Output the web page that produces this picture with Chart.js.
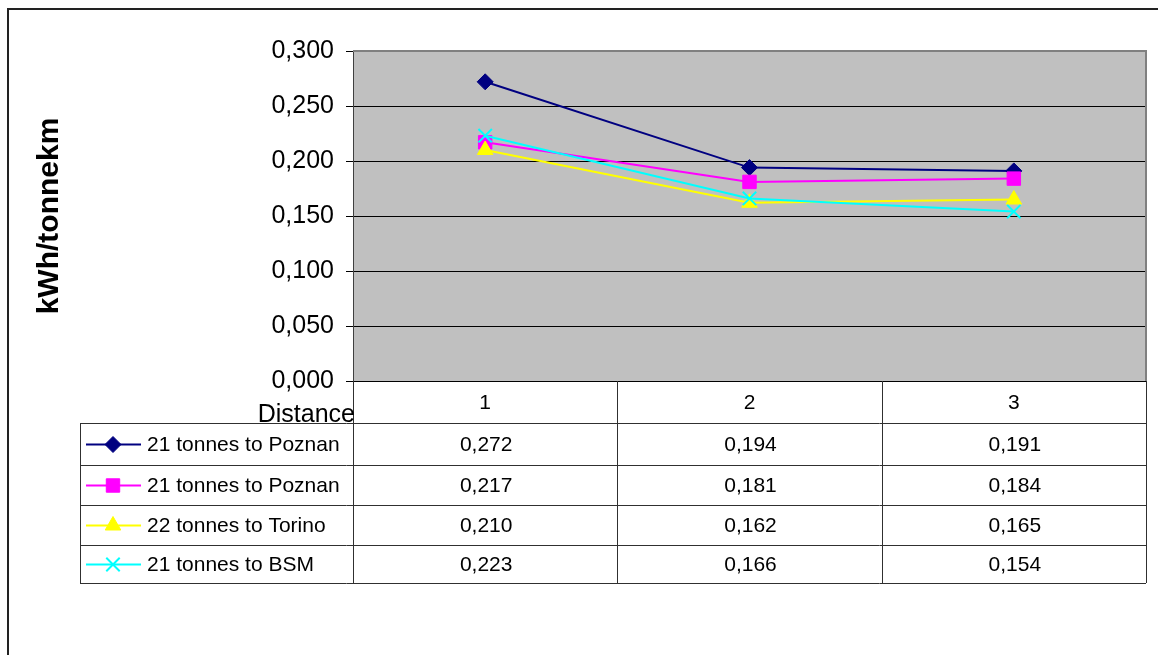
<!DOCTYPE html>
<html>
<head>
<meta charset="utf-8">
<script src="https://cdn.jsdelivr.net/npm/chart.js@4.4.1/dist/chart.umd.min.js"></script>
<style>
html,body{margin:0;padding:0;background:#fff;}
#wrap{width:1158px;height:655px;position:relative;}
</style>
</head>
<body>
<div id="wrap"><canvas id="c" width="1158" height="655"></canvas></div>
<script>
// ---- data ----
const categories = ['1', '2', '3'];
const seriesNames = ['21 tonnes to Poznan', '21 tonnes to Poznan', '22 tonnes to Torino', '21 tonnes to BSM'];
const poznan21A = [0.272, 0.194, 0.191];
const poznan21B = [0.217, 0.181, 0.184];
const torino22 = [0.210, 0.162, 0.165];
const bsm21 = [0.223, 0.166, 0.154];
const yAxisTitle = 'kWh/tonnekm';
const xAxisTitle = 'Distance';

const seriesValues = [poznan21A, poznan21B, torino22, bsm21];
const seriesColors = ['#000080', '#FF00FF', '#FFFF00', '#00FFFF'];
const seriesMarkers = ['rectRot', 'rect', 'triangle', 'crossRot'];
const markerRadius = [8, 9.5, 9, 9.5];

const FONT = '"Liberation Sans", Arial, sans-serif';
const fmt = v => v.toFixed(3).replace('.', ',');

const datasets = seriesValues.map((vals, i) => ({
  label: seriesNames[i],
  data: vals,
  borderColor: seriesColors[i],
  backgroundColor: seriesColors[i],
  pointBackgroundColor: seriesColors[i],
  pointBorderColor: seriesColors[i],
  pointStyle: seriesMarkers[i],
  pointRadius: markerRadius[i],
  pointBorderWidth: i === 3 ? 2 : 1,
  borderWidth: 2,
  tension: 0,
  order: seriesValues.length - i
}));

// table layout constants
const TABLE_LEFT = 80;
const HEADER_BOTTOM = 423;
const ROW_LINES = [423, 465, 505, 545, 583];

function drawMarker(ctx, style, color, r, x, y, bw) {
  if (Chart.helpers && Chart.helpers.drawPoint) {
    ctx.save();
    ctx.fillStyle = color; ctx.strokeStyle = color; ctx.lineWidth = bw;
    Chart.helpers.drawPoint(ctx, {pointStyle: style, radius: r, rotation: 0, borderWidth: bw}, x, y);
    ctx.restore();
  }
}

const tablePlugin = {
  id: 'tablePlugin',
  beforeDraw(chart) {
    const {ctx, chartArea: a} = chart;
    ctx.save();
    ctx.fillStyle = '#fff';
    ctx.fillRect(0, 0, chart.width, chart.height);
    ctx.fillStyle = '#C0C0C0';
    ctx.fillRect(a.left, a.top, a.right - a.left, a.bottom - a.top);
    ctx.restore();
  },
  afterDraw(chart) {
    const {ctx, chartArea: a} = chart;
    const xs = chart.scales.x;
    ctx.save();
    // outer chart border
    ctx.strokeStyle = '#222';
    ctx.lineWidth = 2;
    ctx.strokeRect(8, 9, 1200, 700);
    // plot border (top/right)
    ctx.strokeStyle = '#808080';
    ctx.lineWidth = 2;
    ctx.beginPath();
    ctx.moveTo(a.left, a.top); ctx.lineTo(a.right, a.top); ctx.lineTo(a.right, a.bottom);
    ctx.stroke();

    // table grid
    const n = categories.length;
    const colW = (a.right - a.left) / n;
    const tableBottom = ROW_LINES[ROW_LINES.length - 1];
    ctx.strokeStyle = '#303030';
    ctx.lineWidth = 1;
    ctx.beginPath();
    for (let k = 0; k <= n; k++) {
      const x = Math.round(a.left + k * colW) + 0.5;
      ctx.moveTo(x, a.bottom); ctx.lineTo(x, tableBottom);
    }
    ROW_LINES.forEach(y => {
      ctx.moveTo(TABLE_LEFT, y + 0.5); ctx.lineTo(a.right, y + 0.5);
    });
    ctx.moveTo(TABLE_LEFT + 0.5, ROW_LINES[0]); ctx.lineTo(TABLE_LEFT + 0.5, tableBottom);
    ctx.stroke();

    ctx.fillStyle = '#000';
    // header (category labels)
    ctx.font = '21px ' + FONT;
    ctx.textAlign = 'center';
    ctx.textBaseline = 'middle';
    categories.forEach((c, i) => {
      ctx.fillText(c, xs.getPixelForValue(i), (a.bottom + HEADER_BOTTOM) / 2 + 1);
    });
    // x-axis title
    ctx.font = '25px ' + FONT;
    ctx.textAlign = 'right';
    ctx.fillText(xAxisTitle, a.left + 2, 415);

    // rows
    seriesValues.forEach((vals, r) => {
      const y0 = ROW_LINES[r], y1 = ROW_LINES[r + 1];
      const cy = (y0 + y1) / 2 + 1.5;
      // legend key
      ctx.strokeStyle = seriesColors[r];
      ctx.lineWidth = 2;
      ctx.beginPath();
      ctx.moveTo(86, cy - 1); ctx.lineTo(141, cy - 1);
      ctx.stroke();
      drawMarker(ctx, seriesMarkers[r], seriesColors[r], markerRadius[r], 113, cy - 1, r === 3 ? 2 : 1);
      ctx.fillStyle = '#000';
      ctx.font = '21px ' + FONT;
      ctx.textAlign = 'left';
      ctx.fillText(seriesNames[r], 147, cy);
      ctx.textAlign = 'center';
      vals.forEach((v, i) => {
        ctx.fillText(fmt(v), xs.getPixelForValue(i) + 1, cy);
      });
    });
    ctx.restore();
  }
};

new Chart(document.getElementById('c'), {
  type: 'line',
  data: {labels: categories, datasets},
  options: {
    responsive: false,
    animation: false,
    devicePixelRatio: 1,
    layout: {padding: {left: 0, top: 51, right: 12, bottom: 274}},
    plugins: {legend: {display: false}, tooltip: {enabled: false}},
    scales: {
      x: {display: false, offset: true},
      y: {
        min: 0, max: 0.3,
        afterFit(scale) { scale.width = 353; },
        ticks: {
          stepSize: 0.05,
          color: '#000',
          font: {family: FONT, size: 25},
          padding: 12,
          callback: v => fmt(v)
        },
        grid: {
          color: ctx => (ctx.tick && Math.abs(ctx.tick.value - 0.3) < 1e-9) ? '#808080' : '#000',
          tickColor: '#000',
          tickLength: 7,
          lineWidth: 1
        },
        border: {display: true, color: '#404040', width: 1},
        title: {
          display: true,
          text: yAxisTitle,
          color: '#000',
          font: {family: FONT, size: 30, weight: 'bold', lineHeight: 1},
          padding: {top: 35, bottom: 0}
        }
      }
    }
  },
  plugins: [tablePlugin]
});
</script>
</body>
</html>
